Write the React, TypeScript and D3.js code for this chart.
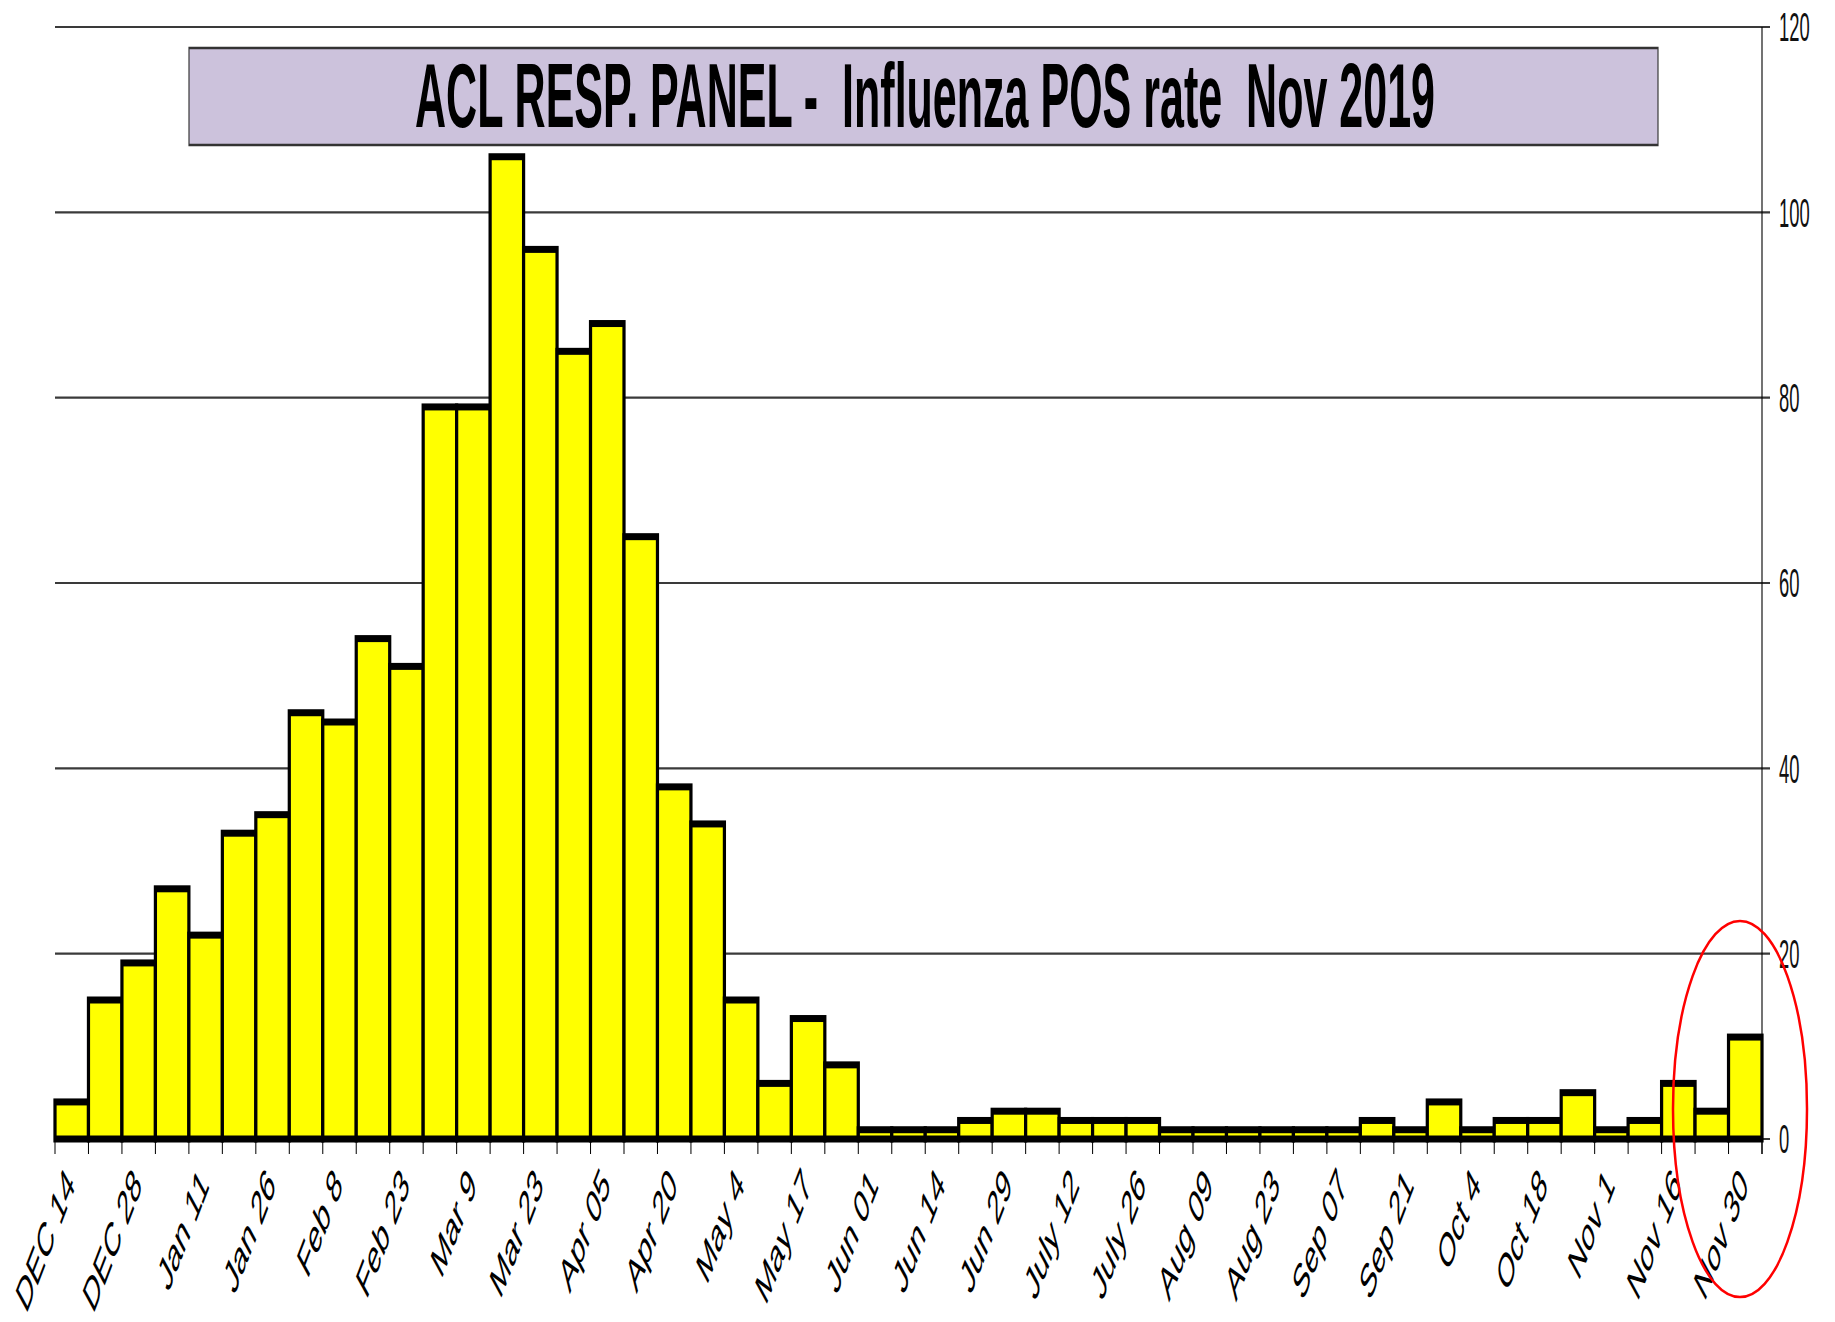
import React from 'react';
import * as d3 from 'd3';

const weekLabels = [
  'DEC 14', 'DEC 28', 'Jan 11', 'Jan 26', 'Feb 8', 'Feb 23', 'Mar 9', 'Mar 23', 'Apr 05',
  'Apr 20', 'May 4', 'May 17', 'Jun 01', 'Jun 14', 'Jun 29', 'July 12', 'July 26', 'Aug 09',
  'Aug 23', 'Sep 07', 'Sep 21', 'Oct 4', 'Oct 18', 'Nov 1', 'Nov 16', 'Nov 30',
];

const posCounts = [
  4, 15, 19, 27, 22, 33, 35, 46, 45, 54, 51, 79, 79, 106, 96, 85, 88, 65, 38, 34,
  15, 6, 13, 8, 1, 1, 1, 2, 3, 3, 2, 2, 2, 1, 1, 1, 1, 1, 1, 2,
  1, 4, 1, 2, 2, 5, 1, 2, 6, 3, 11,
];

const yTickValues = [0, 20, 40, 60, 80, 100, 120];

const titleText = 'ACL RESP. PANEL -  Influenza POS rate  Nov 2019';

const SX = 0.46; // horizontal squeeze of the whole picture
const X = (v: number) => v / SX;

const FONT = '"Liberation Sans", Arial, sans-serif';

export default function App() {
  const W = 1835;
  const H = 1322;
  const left = 55;
  const right = 1762;
  const yZero = 1139;
  const yTop = 27;

  const x = d3
    .scaleBand<number>()
    .domain(d3.range(posCounts.length))
    .range([X(left), X(right)])
    .padding(0);
  const y = d3.scaleLinear().domain([0, 120]).range([yZero, yTop]);
  const bw = x.bandwidth();

  const tickXs = d3.range(posCounts.length + 1).map((i) => X(left) + i * bw);

  return (
    <div style={{ position: 'absolute', left: 0, top: 0 }}>
      <svg width={W} height={H} style={{ display: 'block', background: '#fff' }}>
        <rect x={0} y={0} width={W} height={H} fill="#fff" />
        <g transform={`scale(${SX},1)`}>
          {/* gridlines */}
          {yTickValues.map((t) => (
            <line
              key={'g' + t}
              x1={X(left)}
              x2={X(1770)}
              y1={y(t)}
              y2={y(t)}
              stroke="#3a3a3a"
              strokeWidth={2.2}
            />
          ))}
          {/* right axis */}
          <line x1={X(right)} x2={X(right)} y1={y(120)} y2={1154} stroke="#000" strokeWidth={2.4} />
          {yTickValues.map((t) => (
            <text
              key={'yl' + t}
              x={X(1779)}
              y={y(t)}
              dy="0.36em"
              fontFamily={FONT}
              fontSize={40}
              fill="#111"
            >
              {t}
            </text>
          ))}

          {/* title box */}
          <rect
            x={X(189)}
            y={48}
            width={X(1658) - X(189)}
            height={97}
            fill="#CCC2DC"
            stroke="#333"
            strokeWidth={2.5}
          />
          <text
            x={X(925)}
            y={127}
            textAnchor="middle"
            fontFamily={FONT}
            fontWeight="bold"
            fontSize={90}
            textLength={X(1020)}
            lengthAdjust="spacingAndGlyphs"
            style={{ whiteSpace: 'pre' }}
            fill="#000"
          >
            {titleText}
          </text>

          {/* bars */}
          {posCounts.map((v, i) => (
            <rect
              key={'b' + i}
              x={x(i)}
              y={y(v)}
              width={bw}
              height={y(0) - y(v)}
              fill="#FFFF00"
              stroke="#000"
              strokeWidth={7}
            />
          ))}
          {/* baseline */}
          <line x1={X(left)} x2={X(right)} y1={yZero} y2={yZero} stroke="#000" strokeWidth={6} />
          {/* ticks */}
          {tickXs.map((tx, i) => (
            <line key={'t' + i} x1={tx} x2={tx} y1={1142} y2={1154} stroke="#000" strokeWidth={2.2} />
          ))}
          {/* category labels */}
          {weekLabels.map((lab, k) => {
            const i = k * 2;
            const cx = (x(i) as number) + bw / 2 - X(8);
            const cy = 1164;
            return (
              <text
                key={'c' + k}
                transform={`translate(${cx},${cy}) rotate(-50)`}
                textAnchor="end"
                dy="0.72em"
                fontFamily={FONT}
                fontSize={48}
                fill="#000"
              >
                {lab}
              </text>
            );
          })}
        </g>
        {/* red highlight ellipse */}
        <ellipse cx={1740} cy={1109} rx={67} ry={188} fill="none" stroke="#FF0000" strokeWidth={2.5} />
      </svg>
    </div>
  );
}
